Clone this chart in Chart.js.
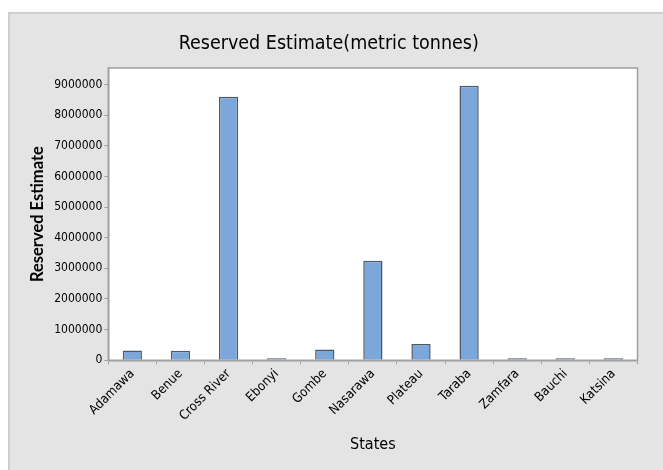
<!DOCTYPE html>
<html>
<head>
<meta charset="utf-8">
<script src="https://cdn.jsdelivr.net/npm/chart.js@4/dist/chart.umd.min.js"></script>
<style>
  html, body { margin: 0; padding: 0; background: #ffffff; }
  #wrap { width: 663px; height: 470px; position: relative; }
</style>
</head>
<body>
<div id="wrap"><canvas id="c" width="663" height="470"></canvas></div>
<script>
const states = ["Adamawa", "Benue", "Cross River", "Ebonyi", "Gombe", "Nasarawa", "Plateau", "Taraba", "Zamfara", "Bauchi", "Katsina"];
const reservedEstimate = [315000, 310000, 8600000, 20000, 350000, 3250000, 530000, 8960000, 20000, 20000, 20000];
const yTicks = [0, 1000000, 2000000, 3000000, 4000000, 5000000, 6000000, 7000000, 8000000, 9000000];
const titleText = "Reserved Estimate(metric tonnes)";
const xTitle = "States";
const yTitle = "Reserved Estimate";

const NARROW = "'DejaVu Sans Condensed', 'DejaVu Sans', sans-serif";
const WIDE = "Lato, 'Open Sans', sans-serif";

const panelPlugin = {
  id: 'panel',
  beforeDraw(chart) {
    const ctx = chart.ctx;
    ctx.save();
    ctx.fillStyle = '#ffffff';
    ctx.fillRect(0, 0, chart.width, chart.height);
    ctx.fillStyle = '#e4e4e4';
    ctx.fillRect(9, 12, chart.width - 9, chart.height - 12);
    ctx.strokeStyle = '#cfcfcf';
    ctx.lineWidth = 2;
    ctx.beginPath();
    ctx.moveTo(9, chart.height);
    ctx.lineTo(9, 13);
    ctx.lineTo(chart.width, 13);
    ctx.stroke();
    const a = chart.chartArea;
    ctx.fillStyle = '#ffffff';
    ctx.fillRect(a.left, a.top, a.right - a.left, a.bottom - a.top);
    ctx.restore();
  },
  afterDatasetsDraw(chart) {
    const ctx = chart.ctx;
    const a = chart.chartArea;
    ctx.save();
    ctx.strokeStyle = '#a0a0a0';
    ctx.lineWidth = 1.5;
    ctx.strokeRect(a.left, a.top, a.right - a.left, a.bottom - a.top);
    ctx.restore();
  }
};

new Chart(document.getElementById('c'), {
  type: 'bar',
  data: {
    labels: states,
    datasets: [{
      data: reservedEstimate,
      backgroundColor: '#7ba7da',
      borderColor: '#4d5866',
      borderWidth: 1.5,
      minBarLength: 2,
      barPercentage: 0.4,
      categoryPercentage: 1.0
    }]
  },
  options: {
    responsive: false,
    animation: false,
    devicePixelRatio: 1,
    layout: { padding: { left: 20, right: 25.5, top: 0, bottom: 10 } },
    plugins: {
      legend: { display: false },
      tooltip: { enabled: false },
      title: {
        display: true,
        text: titleText,
        color: '#000000',
        font: { family: NARROW, size: 19.5, weight: 'normal' },
        padding: { top: 32.3, bottom: 12.3 }
      }
    },
    scales: {
      x: {
        grid: { display: true, drawOnChartArea: false, drawTicks: true, tickLength: 4, color: '#a0a0a0' },
        border: { display: true, color: '#a0a0a0', width: 1.5 },
        ticks: {
          color: '#000000',
          font: { family: NARROW, size: 13 },
          maxRotation: 45, minRotation: 45,
          padding: 2,
          autoSkip: false
        },
        title: {
          display: true, text: xTitle, color: '#000000',
          font: { family: NARROW, size: 16 },
          padding: { top: 9.4, bottom: 5.4 }
        }
      },
      y: {
        min: 0,
        max: 9540000,
        afterBuildTicks(axis) { axis.ticks = yTicks.map(v => ({ value: v })); },
        grid: { display: true, drawOnChartArea: false, drawTicks: true, tickLength: 4, color: '#a0a0a0' },
        border: { display: true, color: '#a0a0a0', width: 1.5 },
        ticks: {
          color: '#000000',
          font: { family: NARROW, size: 12 },
          padding: 2,
          callback: (v) => String(v)
        },
        title: {
          display: true, text: yTitle, color: '#000000',
          font: { family: WIDE, size: 16.5, weight: 'bold' },
          padding: { top: 8.1, bottom: 4.3 }
        }
      }
    }
  },
  plugins: [panelPlugin]
});
</script>
</body>
</html>
